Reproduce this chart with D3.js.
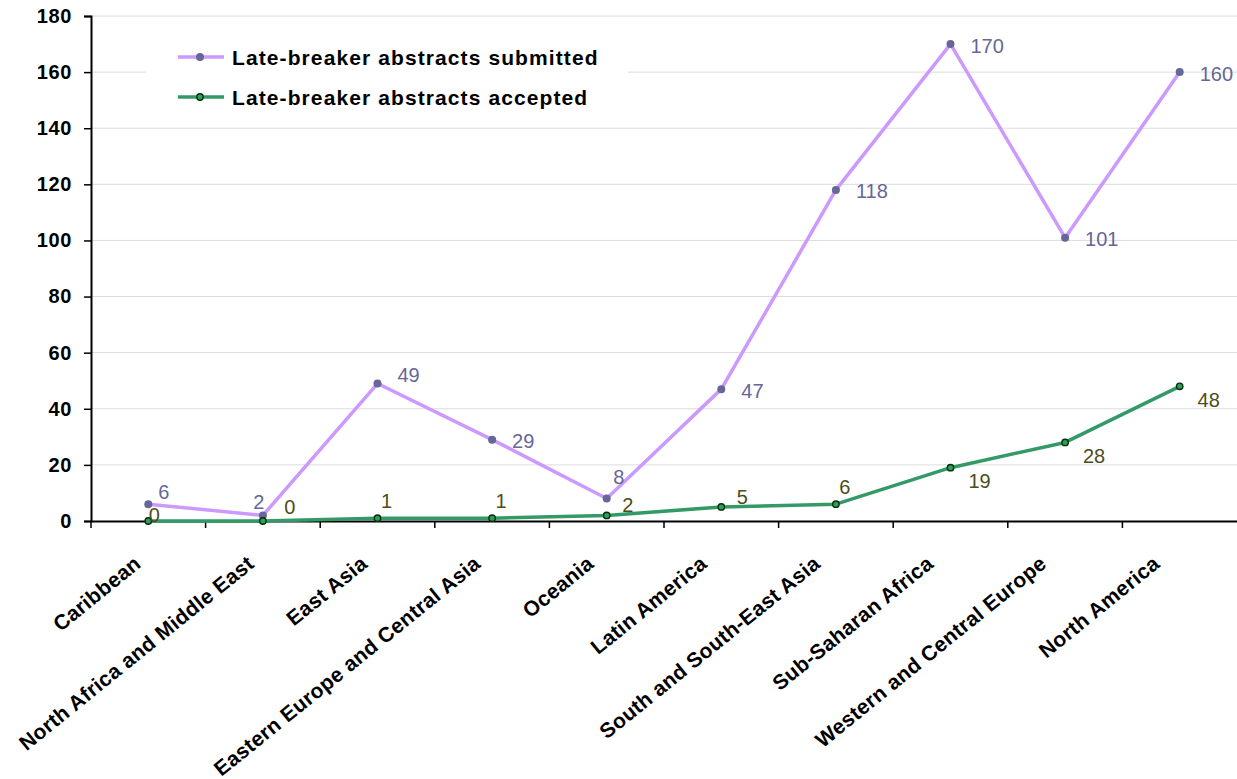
<!DOCTYPE html>
<html><head><meta charset="utf-8">
<script src="https://cdn.jsdelivr.net/npm/d3@7"></script>
<style>
html,body{margin:0;padding:0;background:#fff;}
svg{display:block;font-family:"Liberation Sans",Arial,sans-serif;}
</style></head>
<body><svg id="c" width="1237" height="779"></svg>
<script>
const categories = ["Caribbean","North Africa and Middle East","East Asia","Eastern Europe and Central Asia","Oceania","Latin America","South and South-East Asia","Sub-Saharan Africa","Western and Central Europe","North America"];
const submitted = [6,2,49,29,8,47,118,170,101,160];
const accepted = [0,0,1,1,2,5,6,19,28,48];
const yTicks = [0,20,40,60,80,100,120,140,160,180];
const seriesNames = ["Late-breaker abstracts submitted","Late-breaker abstracts accepted"];
const submittedLabelPos = ["ar2","a","ar","r","a2","r","r","r","r","r"];
const acceptedLabelPos = ["c","ar","a","a","r","r","a","br","br","br"];

(function(){
const subOffs = {r:["start",20,1.5], ar:["start",20,-9], ar2:["start",10,-12], a:["middle",-4,-13.5], a2:["middle",12,-22]};
const accOffs = {c:["middle",6,-6.5], ar:["middle",27,-14.5], a:["middle",9,-17], r:["middle",21,-10], br:["middle",29,13.5]};
const svg = d3.select("#c");
const mLeft = 91, mRight = 1237, mTop = 16, mBottom = 521;
const x = d3.scaleBand().domain(categories).range([mLeft,mRight]);
const y = d3.scaleLinear().domain([0,180]).range([mBottom,mTop]);
const cx = d => x(d) + x.bandwidth()/2;

// gridlines
svg.append("g").selectAll("line").data(yTicks.filter(v=>v>0)).join("line")
  .attr("x1",mLeft).attr("x2",mRight).attr("y1",d=>y(d)).attr("y2",d=>y(d))
  .attr("stroke","#dcdcdc").attr("stroke-width",1);

// legend background
svg.append("rect").attr("x",146).attr("y",32).attr("width",482).attr("height",84).attr("fill","#fff");

// axes
const yAxis = svg.append("g").attr("transform",`translate(${mLeft},0)`)
  .call(d3.axisLeft(y).tickValues(yTicks).tickSize(7).tickPadding(12));
yAxis.select(".domain").attr("stroke","#000").attr("stroke-width",2);
yAxis.selectAll(".tick line").attr("stroke","#000").attr("stroke-width",1.5);
yAxis.selectAll(".tick text").attr("font-size",20).attr("font-weight","bold").attr("fill","#000")
  .attr("letter-spacing","0.6px").attr("font-family","Liberation Sans, Arial, sans-serif");

const xAxis = svg.append("g").attr("transform",`translate(0,${mBottom})`)
  .call(d3.axisBottom(x).tickSize(0).tickFormat(""));
xAxis.select(".domain").attr("stroke","#000").attr("stroke-width",2);
// band boundary ticks
svg.append("g").selectAll("line").data(categories).join("line")
  .attr("x1",d=>x(d)).attr("x2",d=>x(d)).attr("y1",mBottom).attr("y2",mBottom+7)
  .attr("stroke","#000").attr("stroke-width",1.5);

// category labels
svg.append("g").selectAll("text").data(categories).join("text")
  .attr("transform",(d,i)=>`translate(${cx(d)-6-1.4*i},${mBottom+45}) rotate(-39)`)
  .attr("text-anchor","end").attr("font-size",21).attr("font-weight","bold").attr("fill","#000")
  .attr("letter-spacing","0.3px")
  .text(d=>d);

const line = d3.line().x((d,i)=>cx(categories[i])).y(d=>y(d));

// submitted
svg.append("path").datum(submitted).attr("d",line).attr("fill","none")
  .attr("stroke","#cc99ff").attr("stroke-width",3.5).attr("stroke-linejoin","round");
svg.append("g").selectAll("circle").data(submitted).join("circle")
  .attr("cx",(d,i)=>cx(categories[i])).attr("cy",d=>y(d)).attr("r",4).attr("fill","#666699");
svg.append("g").selectAll("text").data(submitted).join("text")
  .attr("x",(d,i)=>cx(categories[i])+subOffs[submittedLabelPos[i]][1])
  .attr("y",(d,i)=>y(d)+subOffs[submittedLabelPos[i]][2])
  .attr("dy","0.35em")
  .attr("text-anchor",(d,i)=>subOffs[submittedLabelPos[i]][0])
  .attr("font-size",20).attr("fill","#666699").text(d=>d);

// accepted
svg.append("path").datum(accepted).attr("d",line).attr("fill","none")
  .attr("stroke","#339966").attr("stroke-width",3.5).attr("stroke-linejoin","round");
svg.append("g").selectAll("circle").data(accepted).join("circle")
  .attr("cx",(d,i)=>cx(categories[i])).attr("cy",d=>y(d)).attr("r",3.2).attr("fill","#339966")
  .attr("stroke","#003300").attr("stroke-width",1.4);
svg.append("g").selectAll("text").data(accepted).join("text")
  .attr("x",(d,i)=>cx(categories[i])+accOffs[acceptedLabelPos[i]][1])
  .attr("y",(d,i)=>y(d)+accOffs[acceptedLabelPos[i]][2])
  .attr("dy","0.35em")
  .attr("text-anchor",(d,i)=>accOffs[acceptedLabelPos[i]][0])
  .attr("font-size",20).attr("fill","#4d4d1a").text(d=>d);

// legend
const lg = svg.append("g");
const legColors = [["#cc99ff","#666699","#666699"],["#339966","#339966","#003300"]];
seriesNames.forEach((n,i)=>{
  const ly = 57 + i*40;
  lg.append("line").attr("x1",178).attr("x2",224).attr("y1",ly).attr("y2",ly)
    .attr("stroke",legColors[i][0]).attr("stroke-width",3.5);
  lg.append("circle").attr("cx",200).attr("cy",ly).attr("r",i===0?4:3.2)
    .attr("fill",legColors[i][1]).attr("stroke",i===0?"none":legColors[i][2]).attr("stroke-width",1.4);
  lg.append("text").attr("x",232).attr("y",ly).attr("dy","0.36em")
    .attr("font-size",21).attr("font-weight","bold").attr("fill","#000")
    .attr("letter-spacing","1.1px").text(n);
});
})();
</script></body></html>
